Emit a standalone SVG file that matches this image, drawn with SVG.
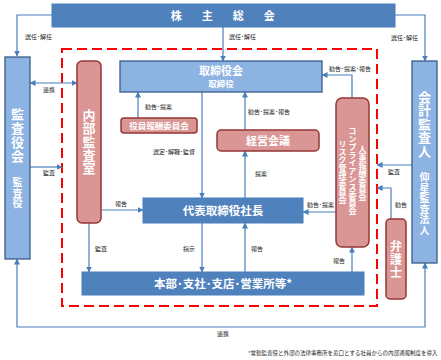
<svg xmlns="http://www.w3.org/2000/svg" width="441" height="360" viewBox="0 0 441 360">
<defs>
<marker id="ah" markerUnits="userSpaceOnUse" markerWidth="6" markerHeight="6" refX="5.5" refY="3" orient="auto-start-reverse">
<path d="M0,0 L6,3 L0,6 z" fill="#4a7ebb"/>
</marker>
<style>
text{font-family:"Noto Sans CJK JP","Noto Sans",sans-serif;}
.dk{fill:#4f81bd;stroke:#4a7ebb;stroke-width:1;}
.lt{fill:#8db3e2;stroke:#385d8a;stroke-width:1.3;}
.rd{fill:#d99694;stroke:#953735;stroke-width:1.5;}
.t{fill:#fff;font-weight:bold;text-anchor:middle;}
.v{fill:#fff;font-weight:bold;text-anchor:middle;writing-mode:vertical-rl;}
.lb{fill:#222;font-size:6px;}
.c{fill:none;stroke:#4a7ebb;stroke-width:1.2;}
</style>
</defs>
<rect width="441" height="360" fill="#fff"/>
<rect x="62" y="49" width="315" height="257" fill="none" stroke="#ff0000" stroke-width="2" stroke-dasharray="10 5"/>

<g id="connectors">
<path class="c" d="M52,15 H17 V56" marker-end="url(#ah)"/>
<path class="c" d="M223,27 V61" marker-end="url(#ah)"/>
<path class="c" d="M395,15 H425 V61" marker-end="url(#ah)"/>
<path class="c" d="M202,92 V198" marker-end="url(#ah)"/>
<path class="c" d="M138,118 V92" marker-end="url(#ah)"/>
<path class="c" d="M245,130 V92" marker-end="url(#ah)"/>
<path class="c" d="M245,198 V151" marker-end="url(#ah)"/>
<path class="c" d="M352,98 V75 H322" marker-end="url(#ah)"/>
<path class="c" d="M336,212 H303" marker-end="url(#ah)"/>
<path class="c" d="M101,210 H143" marker-end="url(#ah)"/>
<path class="c" d="M89,223 V272" marker-end="url(#ah)"/>
<path class="c" d="M202,223 V272" marker-end="url(#ah)"/>
<path class="c" d="M245,272 V223" marker-end="url(#ah)"/>
<path class="c" d="M352,272 V247" marker-end="url(#ah)"/>
<path class="c" d="M30,83 H77" marker-start="url(#ah)" marker-end="url(#ah)"/>
<path class="c" d="M30,167 H62" marker-end="url(#ah)"/>
<path class="c" d="M412,165 H377" marker-end="url(#ah)"/>
<path class="c" d="M391,219 V188 H377" marker-end="url(#ah)"/>
<path class="c" d="M17,259 V327 H425 V263" marker-start="url(#ah)" marker-end="url(#ah)"/>
<text class="lb" x="25" y="39">選任･解任</text>
<text class="lb" x="229" y="39">選任･解任</text>
<text class="lb" x="391" y="40">選任･解任</text>
<text class="lb" x="43" y="92">連携</text>
<text class="lb" x="43" y="175">監査</text>
<text class="lb" x="145" y="109">勧告･提案</text>
<text class="lb" x="248" y="114">勧告･提案･報告</text>
<text class="lb" x="153" y="154">選定･解職･監督</text>
<text class="lb" x="255" y="176">提案</text>
<text class="lb" x="329" y="71">勧告･提案･報告</text>
<text class="lb" x="307" y="207">勧告･提案</text>
<text class="lb" x="115" y="206">報告</text>
<text class="lb" x="95" y="251">監査</text>
<text class="lb" x="183" y="251">指示</text>
<text class="lb" x="251" y="251">報告</text>
<text class="lb" x="333" y="263">報告</text>
<text class="lb" x="388" y="174">監査</text>
<text class="lb" x="395" y="207">勧告</text>
<text class="lb" x="217" y="336">連携</text>
</g>

<g id="kabunushi">
<rect class="dk" x="52" y="4" width="343" height="23"/>
<text class="t" x="225" y="19.5" font-size="11" letter-spacing="4.5">株　主　総　会</text>
</g>

<g id="kansayakukai">
<rect class="lt" x="5" y="57" width="25" height="202"/>
<text class="v" x="17.5" y="136" font-size="13" letter-spacing="1">監査役会</text>
<text class="v" x="17.5" y="193" font-size="10" letter-spacing="0.5">監査役</text>
</g>

<g id="kaikei">
<rect class="lt" x="412" y="61" width="25" height="202"/>
<text class="v" x="424.5" y="124" font-size="13" letter-spacing="0.5">会計監査人</text>
<text class="v" x="424.5" y="204" font-size="10" letter-spacing="0.5">仰星監査法人</text>
</g>

<g id="naibu">
<rect class="rd" x="77" y="61" width="24" height="162" rx="5"/>
<text class="v" x="89" y="142" font-size="13" letter-spacing="0.3">内部監査室</text>
</g>

<g id="torishimariyakukai">
<rect class="lt" x="120" y="61" width="202" height="31"/>
<text class="t" x="221" y="75" font-size="11">取締役会</text>
<text class="t" x="221" y="87" font-size="8.5">取締役</text>
</g>

<g id="yakuin">
<rect class="rd" x="121" y="118" width="76" height="15" rx="3"/>
<text class="t" x="159" y="128.5" font-size="8.5" font-weight="normal">役員報酬委員会</text>
</g>

<g id="keiei">
<rect class="rd" x="217" y="130" width="102" height="21" rx="4"/>
<text class="t" x="268" y="144.5" font-size="11">経営会議</text>
</g>

<g id="iinkai">
<rect class="rd" x="336" y="98" width="33" height="149" rx="6"/>
<text class="v" x="362.5" y="173" font-size="8" font-weight="normal">人事報酬委員会</text>
<text class="v" x="352.5" y="171" font-size="8" font-weight="normal">コンプライアンス委員会</text>
<text class="v" x="342.5" y="172" font-size="8" font-weight="normal">リスク管理委員会</text>
</g>

<g id="shacho">
<rect class="dk" x="143" y="198" width="160" height="25"/>
<text class="t" x="223" y="214.5" font-size="11.5">代表取締役社長</text>
</g>

<g id="honbu">
<rect class="dk" x="82" y="272" width="282" height="23"/>
<text class="t" x="223" y="287.5" font-size="11.5">本部･支社･支店･営業所等*</text>
</g>

<g id="bengoshi">
<rect class="rd" x="386" y="219" width="20" height="80" rx="4"/>
<text class="v" x="396" y="260" font-size="12" letter-spacing="1">弁護士</text>
</g>

<text x="248" y="355" fill="#222" font-size="5.5">*常勤監査役と外部の法律事務所を窓口とする社員からの内部通報制度を導入</text>
</svg>
